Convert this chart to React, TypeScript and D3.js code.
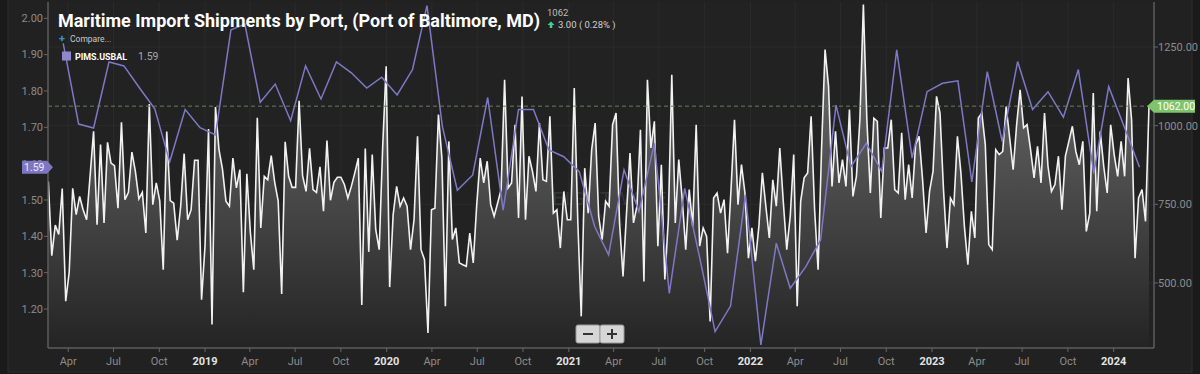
import React from "react";
import * as d3 from "d3";

// weekly import shipments (right axis), starting 2018-02-20
const weeklyStart = new Date(2018, 1, 20);
const shipments = [
  823, 587, 684, 654, 800, 442, 534, 801, 717, 775, 733, 701, 841, 982, 685, 940, 691, 947, 881, 873,
  738, 1011, 765, 788, 916, 855, 767, 788, 659, 1069, 749, 818, 761, 542, 981, 762, 754, 636, 744, 911,
  701, 733, 890, 890, 447, 619, 989, 368, 1059, 924, 862, 760, 744, 897, 802, 860, 471, 847, 662, 542,
  1025, 675, 839, 828, 905, 820, 760, 465, 949, 839, 804, 804, 1079, 841, 791, 928, 797, 788, 869, 728,
  953, 763, 820, 836, 836, 813, 770, 807, 850, 897, 430, 927, 599, 908, 670, 606, 934, 1189, 487, 717,
  807, 744, 770, 744, 606, 701, 966, 606, 574, 341, 733, 738, 1035, 897, 426, 950, 638, 675, 564, 558,
  553, 659, 564, 749, 897, 818, 887, 749, 712, 754, 797, 1146, 802, 818, 1003, 707, 1093, 701, 903, 855,
  791, 1008, 828, 823, 1030, 722, 733, 611, 791, 701, 701, 1120, 701, 394, 865, 722, 924, 1008, 712, 638,
  760, 744, 1003, 1040, 691, 521, 722, 913, 691, 744, 987, 505, 1146, 929, 1014, 617, 876, 511, 701, 1162,
  691, 892, 765, 606, 797, 680, 1003, 617, 675, 648, 378, 770, 786, 722, 765, 595, 797, 1019, 749, 876,
  786, 579, 675, 569, 680, 850, 744, 643, 828, 744, 929, 760, 606, 712, 908, 426, 760, 834, 850, 1030,
  733, 542, 929, 1242, 1125, 807, 982, 818, 892, 807, 1051, 775, 839, 1019, 1385, 1019, 786, 1024, 1014, 707,
  929, 929, 1019, 797, 786, 977, 765, 876, 770, 940, 966, 828, 659, 791, 855, 1093, 1040, 797, 611, 770,
  749, 966, 850, 680, 558, 728, 643, 1024, 1040, 940, 622, 606, 924, 908, 918, 1061, 961, 860, 1003, 1114,
  993, 1003, 924, 834, 934, 818, 1040, 871, 791, 813, 903, 733, 903, 950, 998, 918, 876, 950, 664, 722,
  1104, 728, 982, 871, 786, 1003, 908, 839, 950, 839, 1151, 1019, 579, 770, 797, 696, 1062,
];

// monthly PIMS.USBAL (left axis), Mar 2018 .. Feb 2024
const pimsStart = new Date(2018, 2, 22);
const pims = [
  1.931, 1.709, 1.698, 1.88, 1.869, 1.809, 1.751, 1.605, 1.749, 1.699,
  1.679, 1.968, 1.984, 1.769, 1.819, 1.718, 1.869, 1.778, 1.88, 1.85,
  1.808, 1.838, 1.789, 1.859, 2.035, 1.702, 1.527, 1.569, 1.782, 1.472,
  1.749, 1.749, 1.638, 1.619, 1.578, 1.427, 1.349, 1.583, 1.468, 1.656,
  1.243, 1.532, 1.335, 1.138, 1.208, 1.514, 1.101, 1.381, 1.257, 1.316,
  1.39, 1.761, 1.592, 1.656, 1.578, 1.913, 1.615, 1.798, 1.821, 1.828,
  1.55, 1.853, 1.661, 1.881, 1.749, 1.798, 1.728, 1.859, 1.573, 1.812,
  1.702, 1.59,
];

const leftTicks = [1.2, 1.3, 1.4, 1.5, 1.6, 1.7, 1.8, 1.9, 2.0];
const rightTicks = [500, 750, 1000, 1250];
const title = "Maritime Import Shipments by Port, (Port of Baltimore, MD)";
const lastValue = 1062;
const change = "3.00 ( 0.28% )";

const W = 1200;
const H = 374;
const plot = { left: 48, right: 1154, top: 2, bottom: 348 };

const font = "Roboto, 'Noto Sans', sans-serif";

export default function App() {
  const weekly = shipments.map((v, i) => ({ date: d3.timeDay.offset(weeklyStart, i * 7), v }));
  const monthly = pims.map((v, i) => ({ date: d3.timeMonth.offset(pimsStart, i), v }));

  const x = d3
    .scaleTime()
    .domain([weekly[0].date, weekly[weekly.length - 1].date])
    .range([48.3, 1149]);
  const yL = d3.scaleLinear().domain([1.2, 2.0]).range([309, 18.3]);
  const yR = d3.scaleLinear().domain([500, 1250]).range([283, 47]);

  const area = d3
    .area<{ date: Date; v: number }>()
    .x((d) => x(d.date))
    .y0(plot.bottom)
    .y1((d) => yR(d.v));
  const line = d3
    .line<{ date: Date; v: number }>()
    .x((d) => x(d.date))
    .y((d) => yR(d.v));
  const pimsLine = d3
    .line<{ date: Date; v: number }>()
    .x((d) => x(d.date))
    .y((d) => yL(d.v));

  const xTicks = x.ticks(d3.timeMonth.every(3));
  const fmtMonth = d3.timeFormat("%b");

  const yDash = yR(lastValue);
  const yPims = yL(pims[pims.length - 1]);

  return (
    <div style={{ position: "fixed", left: 0, top: 0 }}>
      <svg width={W} height={H} style={{ display: "block", fontFamily: font }}>
        <defs>
          <linearGradient id="fillGrad" gradientUnits="userSpaceOnUse" x1="0" y1="40" x2="0" y2={plot.bottom}>
            <stop offset="0" stopColor="#6e6e6e" />
            <stop offset="1" stopColor="#242424" />
          </linearGradient>
          <clipPath id="plotClip">
            <rect x={plot.left} y={plot.top} width={plot.right - plot.left} height={plot.bottom - plot.top} />
          </clipPath>
        </defs>

        <rect width={W} height={H} fill="#1a1a1a" />
        <rect x={8} y={-1} width={1184} height={373} fill="#212121" stroke="#2f2f2f" />
        <rect x={plot.left} y={plot.top} width={plot.right - plot.left} height={plot.bottom - plot.top} fill="#222222" />

        {/* grid */}
        {xTicks.map((t) => (
          <line key={+t} x1={x(t)} x2={x(t)} y1={plot.top} y2={plot.bottom} stroke="#2b2b2b" />
        ))}
        {rightTicks.map((t) => (
          <line key={t} x1={plot.left} x2={plot.right} y1={yR(t)} y2={yR(t)} stroke="#2b2b2b" />
        ))}

        {/* watermark */}
        <g fill="#ffffff" fillOpacity={0.1} textAnchor="middle" fontFamily="'DejaVu Sans', sans-serif">
          <text x={604} y={205} fontSize={18} letterSpacing={1}>FREIGHTWAVES</text>
          <text x={604} y={226} fontSize={16} letterSpacing={3}>SONAR</text>
        </g>

        <g clipPath="url(#plotClip)">
          <path d={area(weekly) ?? ""} fill="url(#fillGrad)" />
          <path d={line(weekly) ?? ""} fill="none" stroke="#f2f2f2" strokeWidth={1.6} />
          <path d={pimsLine(monthly) ?? ""} fill="none" stroke="#7f78c6" strokeWidth={1.5} />
        </g>

        {/* last value line */}
        <line x1={plot.left} x2={plot.right} y1={yDash} y2={yDash} stroke="#67805a" strokeDasharray="4,3" />

        {/* axes */}
        <line x1={plot.left} x2={plot.left} y1={plot.top} y2={plot.bottom} stroke="#5c5c5c" strokeWidth={1.5} />
        <line x1={plot.right} x2={plot.right} y1={plot.top} y2={plot.bottom} stroke="#5c5c5c" strokeWidth={1.5} />
        <line x1={plot.left} x2={plot.right} y1={plot.bottom} y2={plot.bottom} stroke="#5c5c5c" strokeWidth={1.5} />

        {leftTicks.map((t) => (
          <g key={t}>
            <line x1={plot.left - 4} x2={plot.left} y1={yL(t)} y2={yL(t)} stroke="#666" />
            <text x={43} y={yL(t)} dy="0.35em" textAnchor="end" fontSize={11} fill="#8c8c8c">
              {t.toFixed(2)}
            </text>
          </g>
        ))}
        {rightTicks.map((t) => (
          <g key={t}>
            <line x1={plot.right} x2={plot.right + 4} y1={yR(t)} y2={yR(t)} stroke="#666" />
            <text x={1158} y={yR(t)} dy="0.35em" fontSize={11} fill="#8c8c8c">
              {t.toFixed(2)}
            </text>
          </g>
        ))}
        {xTicks.map((t) => {
          const isYear = t.getMonth() === 0;
          return (
            <g key={+t}>
              <line x1={x(t)} x2={x(t)} y1={plot.bottom} y2={plot.bottom + 4} stroke="#666" />
              <text
                x={x(t)}
                y={365}
                textAnchor="middle"
                fontSize={11}
                fontWeight={isYear ? 700 : 400}
                fill={isYear ? "#e4e4e4" : "#8c8c8c"}
              >
                {isYear ? t.getFullYear() : fmtMonth(t)}
              </text>
            </g>
          );
        })}

        {/* left tag, covering the 1.60 tick label as in the source */}
        <path d={`M22,${yPims - 6.5}H47L53,${yPims}L47,${yPims + 6.5}H22Z`} fill="#7d76c2" />
        <text x={24} y={yPims} dy="0.36em" fontSize={10.5} fill="#ecebfa">
          {pims[pims.length - 1].toFixed(2)}
        </text>

        {/* right tag */}
        <path d={`M1147,${yDash}L1154,${yDash - 6.5}H1195V${yDash + 6.5}H1154Z`} fill="#7ec46c" />
        <text x={1157} y={yDash} dy="0.36em" fontSize={10.5} fill="#ffffff">
          {lastValue.toFixed(2)}
        </text>

        {/* title and header */}
        <text x={58} y={27} fontSize={18} fontWeight={700} fill="#ffffff" textLength={482} lengthAdjust="spacingAndGlyphs">
          {title}
        </text>
        <text x={547} y={16} fontSize={9.5} fill="#bdbdbd">
          {lastValue}
        </text>
        <path d="M551,21.5L554.5,25H552.3V28H549.7V25H547.5Z" fill="#3fd18c" />
        <text x={558} y={27.5} fontSize={9.5} fill="#cfcfcf">
          {change}
        </text>

        <text x={59} y={42} fontSize={11} fill="#3d8fdf" fontWeight={700}>+</text>
        <text x={70} y={42} fontSize={8.5} fill="#c8c8c8">Compare...</text>
        <rect x={62} y={51.5} width={9} height={9} fill="#8f88cc" />
        <text x={75} y={59.5} fontSize={9.8} fontWeight={700} fill="#ffffff" textLength={52} lengthAdjust="spacingAndGlyphs">PIMS.USBAL</text>
        <text x={138} y={60} fontSize={10.5} fill="#a8a8a8">{pims[pims.length - 1].toFixed(2)}</text>

        {/* zoom buttons */}
        <rect x={576} y={325} width={24} height={18} rx={2} fill="#d6d6d6" stroke="#9a9a9a" />
        <rect x={600} y={325} width={24} height={18} rx={2} fill="#d6d6d6" stroke="#9a9a9a" />
        <line x1={583} x2={593} y1={334} y2={334} stroke="#333" strokeWidth={2} />
        <line x1={607} x2={617} y1={334} y2={334} stroke="#333" strokeWidth={2} />
        <line x1={612} x2={612} y1={329} y2={339} stroke="#333" strokeWidth={2} />
      </svg>
    </div>
  );
}
